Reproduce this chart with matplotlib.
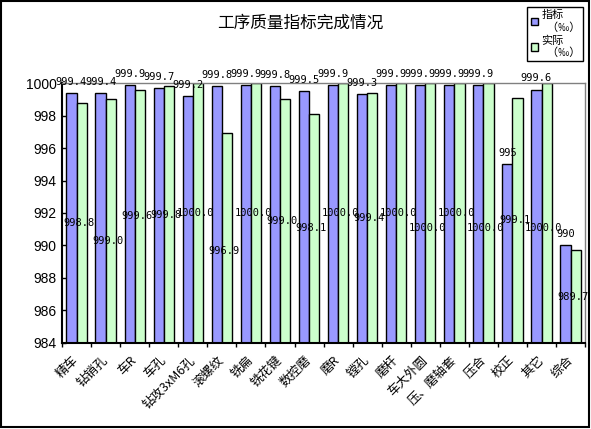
import matplotlib
matplotlib.use("Agg")
from matplotlib import pyplot as plt
from matplotlib.patches import Rectangle, Patch
import numpy as np

plt.rcParams['font.family'] = ['Noto Sans CJK SC', 'DejaVu Sans']

categories = ["精车", "钻销孔", "车R", "车孔", "钻攻3xM6孔", "滚螺纹", "铣扁", "铣花键", "数控磨",
              "磨R", "镗孔", "磨杆", "车大外圆", "压、磨轴套", "压合", "校正", "其它", "综合"]
target = [999.4, 999.4, 999.9, 999.7, 999.2, 999.8, 999.9, 999.8, 999.5,
          999.9, 999.3, 999.9, 999.9, 999.9, 999.9, 995.0, 999.6, 990.0]
actual = [998.8, 999.0, 999.6, 999.8, 1000.0, 996.9, 1000.0, 999.0, 998.1,
          1000.0, 999.4, 1000.0, 1000.0, 1000.0, 1000.0, 999.1, 1000.0, 989.7]
target_text = ["999.4", "999.4", "999.9", "999.7", "999.2", "999.8", "999.9", "999.8", "999.5",
               "999.9", "999.3", "999.9", "999.9", "999.9", "999.9", "995", "999.6", "990"]
actual_text = ["998.8", "999.0", "999.6", "999.8", "1000.0", "996.9", "1000.0", "999.0", "998.1",
               "1000.0", "999.4", "1000.0", "1000.0", "1000.0", "1000.0", "999.1", "1000.0", "989.7"]

# label pushed down a bit where Excel avoided overlaps (points)
actual_shift = [0, 14, 0, 0, 0, 9, 0, 0, 0, 0, 0, 0, 11, 0, 11, 0, 11, 0]

base = 984
blue = "#9999FF"
green = "#CCFFCC"

fig = plt.figure(figsize=(5.91, 4.29), dpi=100)
fig.patches.append(Rectangle((0.002, 0.004), 0.995, 0.993, transform=fig.transFigure,
                             fill=False, edgecolor="black", linewidth=1.5))
ax = fig.add_axes([0.105, 0.2005, 0.885, 0.606])

x = np.arange(len(categories))
w = 0.35
ax.bar(x - w / 2, np.array(target) - base, w, bottom=base, color=blue, edgecolor="black", linewidth=1.0)
ax.bar(x + w / 2, np.array(actual) - base, w, bottom=base, color=green, edgecolor="black", linewidth=1.0)

for i in range(len(categories)):
    ax.annotate(target_text[i], (x[i] - w / 2, target[i]), xytext=(0, 8), textcoords="offset points",
                ha="center", va="center", fontsize=7.5, family="DejaVu Sans Mono", annotation_clip=False)
    ax.annotate(actual_text[i], (x[i] + w / 2, (base + actual[i]) / 2), xytext=(-2, -actual_shift[i]),
                textcoords="offset points", ha="center", va="center", fontsize=7.5,
                family="DejaVu Sans Mono", annotation_clip=False)

ax.set_xlim(-0.5, len(categories) - 0.5)
ax.set_ylim(984, 1000)
ax.set_yticks(range(984, 1001, 2))
ax.set_yticklabels([str(v) for v in range(984, 1001, 2)], family="Liberation Sans", fontsize=10)
ax.tick_params(axis="y", direction="in", length=3, width=1, pad=4)

ax.set_xticks(np.arange(len(categories) + 1) - 0.5)
ax.set_xticklabels([])
ax.tick_params(axis="x", which="major", direction="out", length=3, width=1)
ax.set_xticks(x, minor=True)
ax.set_xticklabels(categories, minor=True, rotation=45, ha="right", va="center",
                   rotation_mode="anchor", fontsize=9)
ax.tick_params(axis="x", which="minor", length=0, pad=11)

for s in ["left", "bottom"]:
    ax.spines[s].set_linewidth(1.5)
for s in ["top", "right"]:
    ax.spines[s].set_color("#808080")
    ax.spines[s].set_linewidth(1.0)

fig.text(0.508, 0.945, "工序质量指标完成情况", ha="center", va="center", fontsize=12)

handles = [Patch(facecolor=blue, edgecolor="black"), Patch(facecolor=green, edgecolor="black")]
fig.legend(handles, ["指标\n  （‰）", "实际\n  （‰）"], loc="upper left", bbox_to_anchor=(0.892, 0.984),
           fontsize=8, frameon=True, fancybox=False, edgecolor="black", framealpha=1,
           handlelength=0.7, handleheight=0.7, handletextpad=0.3, borderpad=0.3, labelspacing=0.25,
           borderaxespad=0)

fig.savefig("out.png", dpi=100)
